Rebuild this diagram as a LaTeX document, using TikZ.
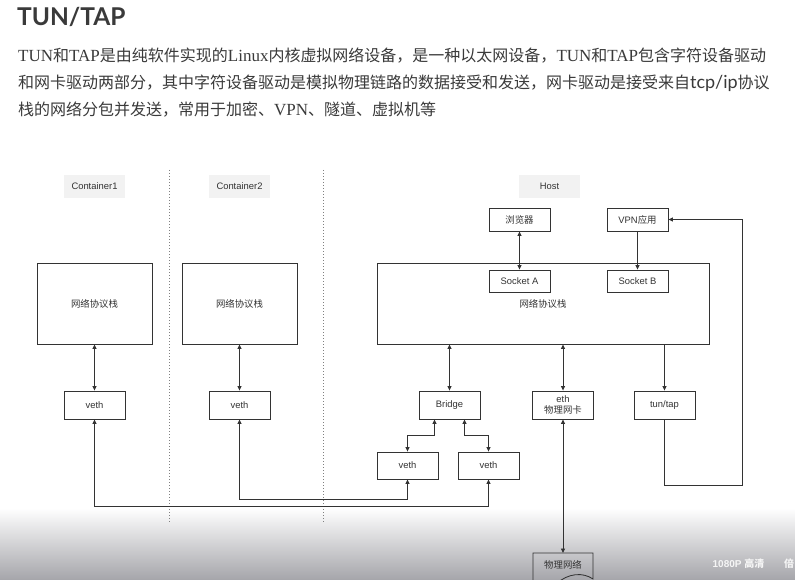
\documentclass[tikz,border=0pt]{standalone}
\usepackage{fontspec}
\setmainfont{Liberation Sans}
\newfontfamily\cjk{Noto Sans CJK SC}
\newfontfamily\serifl{Liberation Serif}
\newfontfamily\lato{Lato}
\usetikzlibrary{arrows.meta}
\definecolor{ink}{HTML}{333333}
\definecolor{txt}{HTML}{3a3a3a}
\definecolor{labbg}{HTML}{F2F2F2}
\definecolor{shadebot}{RGB}{165,165,170}
\newcommand\pc{\fontsize{16}{20}\selectfont\cjk}
\newcommand\pl[1]{{\fontsize{17}{20}\selectfont\serifl #1}}
\newcommand\dfont{\fontsize{9.4}{11}\selectfont}
\newcommand\cfont{\fontsize{9.4}{11}\selectfont\cjk}
\begin{document}
\begin{tikzpicture}[x=1pt,y=-1pt,
  >={Triangle[length=4.5pt,width=4pt]},
  box/.style={draw=ink,line width=0.85pt,fill=white,minimum width=61pt,minimum height=28pt,inner sep=0pt,font=\dfont,text=ink,align=center},
  stackbox/.style={box,minimum width=115pt,minimum height=81pt,font=\cfont},
  labbox/.style={fill=labbg,minimum width=61pt,minimum height=23pt,inner sep=0pt,font=\dfont,text=ink},
  conn/.style={draw=ink,line width=0.85pt},
  divider/.style={draw=gray,dotted,line width=1pt}]
\useasboundingbox (0,0) rectangle (795,580);
\fill[white] (0,0) rectangle (795,580);
% video overlay gradient
\shade[top color=white,bottom color=shadebot] (0,508) rectangle (795,580);

% title and paragraph
\node[anchor=base west,inner sep=0pt,text=txt,font=\lato\bfseries\fontsize{24.5}{30}\selectfont] (title) at (17,26) {TUN/TAP};
\node[anchor=base west,inner sep=0pt,text=txt] (p1) at (18,62) {\pc \pl{TUN}和\pl{TAP}是由纯软件实现的\pl{Linux}内核虚拟网络设备，是一种以太网设备，\pl{TUN}和\pl{TAP}包含字符设备驱动};
\node[anchor=base west,inner sep=0pt,text=txt] (p2) at (18,89) {\pc 和网卡驱动两部分，其中字符设备驱动是模拟物理链路的数据接受和发送，网卡驱动是接受来自{\fontsize{18}{20}\selectfont\lato tcp/ip}协议};
\node[anchor=base west,inner sep=0pt,text=txt] (p3) at (18,116) {\pc 栈的网络分包并发送，常用于加密、\pl{VPN}、隧道、虚拟机等};

% dividers
\coordinate (d1t) at (169,170); \coordinate (d1b) at (169,523);
\coordinate (d2t) at (323,170); \coordinate (d2b) at (323,522);
\draw[divider] (d1t) -- (d1b);
\draw[divider] (d2t) -- (d2b);

% labels
\node[labbox] (lab1) at (94.5,186.5) {Container1};
\node[labbox] (lab2) at (239.5,186.5) {Container2};
\node[labbox] (labh) at (549.5,186.5) {Host};

% stacks
\node[stackbox] (c1stack) at (94.5,303.5) {网络协议栈};
\node[stackbox] (c2stack) at (239.5,303.5) {网络协议栈};
\node[stackbox,minimum width=332pt] (hstack) at (543,303.5) {网络协议栈};

% host apps
\node[box,minimum height=23pt,font=\cfont] (browser) at (519.5,219.5) {浏览器};
\node[box,minimum height=23pt] (vpn) at (637.5,219.5) {VPN{\cjk 应用}};
\node[box,minimum height=22pt] (sockA) at (519.5,281) {Socket A};
\node[box,minimum height=22pt] (sockB) at (637.5,281) {Socket B};

% devices
\node[box] (c1veth) at (94.5,405) {veth};
\node[box] (c2veth) at (239.5,405) {veth};
\node[box] (bridge) at (449.5,405) {Bridge};
\node[box] (eth) at (563,405) {eth\\{\cjk 物理网卡}};
\node[box] (tun) at (664.5,405) {tun/tap};
\node[box,minimum height=27pt] (bveth1) at (407.5,465.5) {veth};
\node[box,minimum height=27pt] (bveth2) at (488.5,465.5) {veth};

% physical network (document shape, cut by the frame)
\coordinate (phytop) at (563,553);
\draw[ink,line width=0.85pt] (533,592) -- (533,553) -- (593,553) -- (593,579) .. controls (583,572) and (568,573) .. (556,584);
\node[font=\cfont,text=ink,inner sep=0pt] (phy) at (563,565) {物理网络};

% connectors
\draw[conn,<->] (c1stack.south) -- (c1veth.north);
\draw[conn,<->] (c2stack.south) -- (c2veth.north);
\draw[conn,<->] (c1veth.south) -- ++(0,87) -| (bveth2.south);
\draw[conn,<->] (c2veth.south) -- ++(0,80) -| (bveth1.south);
\draw[conn,<->] ([xshift=-15pt]bridge.south) -- ++(0,16) -| (bveth1.north);
\draw[conn,<->] ([xshift=15pt]bridge.south) -- ++(0,16) -| (bveth2.north);
\draw[conn,<->] (bridge.north |- hstack.south) -- (bridge.north);
\draw[conn,<->] (eth.north |- hstack.south) -- (eth.north);
\draw[conn,<->] (eth.south) -- (phytop);
\draw[conn,->] (tun.north |- hstack.south) -- (tun.north);
\draw[conn,->] (tun.south) -- ++(0,66) -- ++(78,0) |- (vpn.east);
\draw[conn,<->] (browser.south) -- (sockA.north);
\draw[conn,->] (vpn.south) -- (sockB.north);

% video player overlay text
\node[text=white!92!gray,font=\bfseries\fontsize{10}{12}\selectfont,inner sep=0pt] (hd) at (738.5,564) {1080P {\cjk 高清}};
\node[text=white!92!gray,font=\bfseries\fontsize{10}{12}\selectfont\cjk,inner sep=0pt,anchor=west] (bei) at (784,564) {倍};
\end{tikzpicture}
\end{document}
